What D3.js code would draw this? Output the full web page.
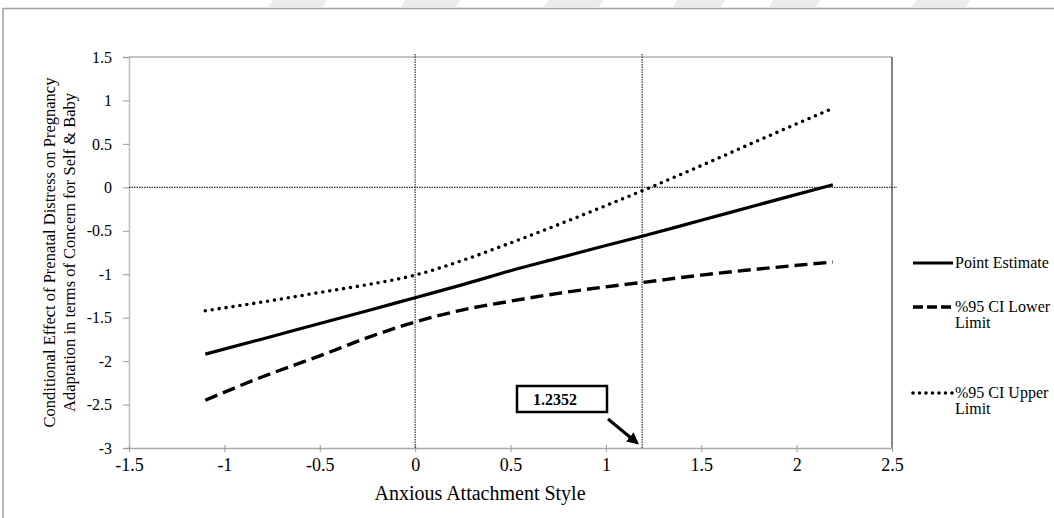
<!DOCTYPE html>
<html><head><meta charset="utf-8">
<script src="https://cdn.jsdelivr.net/npm/d3@7"></script>
<style>body{margin:0;background:#fff}svg{display:block}text{font-family:"Liberation Serif","Times New Roman",serif;fill:#000}</style>
</head><body><svg id="c" width="1054" height="518"></svg>
<script>
// ---- data ----
const xValues    = [-1.1, -0.8, -0.5, -0.25, 0, 0.25, 0.5, 0.75, 1.0, 1.19, 1.5, 1.8, 2.19];
const pointEst   = [-1.92, -1.745, -1.567, -1.42, -1.27, -1.12, -0.96, -0.815, -0.67, -0.563, -0.379, -0.20, 0.03];
const lowerCI    = [-2.45, -2.18, -1.94, -1.73, -1.55, -1.41, -1.31, -1.22, -1.145, -1.095, -1.01, -0.94, -0.86];
const upperCI    = [-1.42, -1.32, -1.21, -1.12, -1.01, -0.84, -0.64, -0.43, -0.21, -0.04, 0.25, 0.54, 0.91];
const xTicks = [-1.5, -1, -0.5, 0, 0.5, 1, 1.5, 2, 2.5];
const yTicks = [1.5, 1, 0.5, 0, -0.5, -1, -1.5, -2, -2.5, -3];
const refX = [0, 1.19];          // vertical reference lines
const refY = [0];                // horizontal reference line
const jnLabel = "1.2352";
const seriesNames = ["Point Estimate", "%95 CI Lower|Limit", "%95 CI Upper|Limit"];
const xTitle = "Anxious Attachment Style";
const yTitle = ["Conditional Effect of Prenatal Distress on Pregnancy", "Adaptation in terms of Concern for Self & Baby"];

const svg = d3.select("#c");
const L = 129, R = 892, T = 57, B = 448;
const x = d3.scaleLinear().domain([-1.5, 2.5]).range([L, R]);
const y = d3.scaleLinear().domain([-3, 1.5]).range([B, T]);

// watermark stripes at the top
const stripes = [[269,323],[401,456],[544,599],[673,721],[769,816],[912,966]];
svg.selectAll("polygon.wm").data(stripes).enter().append("polygon")
  .attr("points", d => `${d[0]+4},0 ${d[1]+4},0 ${d[1]},7 ${d[0]},7`)
  .attr("fill", "#ececec");

// outer frame
svg.append("path").attr("d", "M3,518 V8.5 H1054").attr("fill","none").attr("stroke","#a0a0a0").attr("stroke-width",1.5);

// plot border top/right
svg.append("line").attr("x1",L).attr("x2",R).attr("y1",T).attr("y2",T).attr("stroke","#8a8a8a").attr("stroke-width",1.2);
svg.append("line").attr("x1",R).attr("x2",R).attr("y1",T).attr("y2",B).attr("stroke","#333").attr("stroke-width",1.2);

// axes
const yAxis = svg.append("g").attr("transform",`translate(${L},0)`)
  .call(d3.axisLeft(y).tickValues(yTicks).tickSize(6).tickPadding(11).tickFormat(d => String(d)));
yAxis.select(".domain").attr("stroke","#bdbdbd").attr("stroke-width",1.5);
yAxis.selectAll(".tick line").attr("stroke","#9a9a9a");
yAxis.selectAll("text").attr("font-size",16).attr("font-family","Liberation Serif");

const xAxis = svg.append("g").attr("transform",`translate(0,${B})`)
  .call(d3.axisBottom(x).tickValues(xTicks).tickSizeInner(4).tickSizeOuter(0).tickPadding(6).tickFormat(d => String(d)));
xAxis.select(".domain").attr("stroke","#a8a8a8").attr("stroke-width",1.5);
xAxis.selectAll(".tick line").attr("stroke","#9a9a9a").attr("y1",-3);
xAxis.selectAll("text").attr("font-size",18).attr("font-family","Liberation Serif");

// reference lines
svg.selectAll("line.rx").data(refX).enter().append("line")
  .attr("x1",d=>x(d)).attr("x2",d=>x(d)).attr("y1",T-3).attr("y2",B)
  .attr("stroke","#333").attr("stroke-width",1.2).attr("stroke-dasharray","1.5,1");
svg.selectAll("line.ry").data(refY).enter().append("line")
  .attr("x1",L).attr("x2",R+5).attr("y1",d=>y(d)).attr("y2",d=>y(d))
  .attr("stroke","#333").attr("stroke-width",1.2).attr("stroke-dasharray","1.5,1");

// series
const line = d3.line().x(d=>x(d[0])).y(d=>y(d[1])).curve(d3.curveMonotoneX);
const styles = [
  {dash:null, cap:"butt", w:3.2},
  {dash:"13,6", cap:"butt", w:3.4},
  {dash:"0,7", cap:"round", w:3.6}
];
[pointEst, lowerCI, upperCI].forEach((vals,i) => {
  svg.append("path").datum(xValues.map((xv,j)=>[xv, vals[j]]))
    .attr("d", line).attr("fill","none").attr("stroke","#000")
    .attr("stroke-width", styles[i].w).attr("stroke-linecap", styles[i].cap)
    .attr("stroke-dasharray", styles[i].dash);
});

// legend
const legY = [263, 307, 393];
const legDash = [null, "10,4", "0,6.5"];
seriesNames.forEach((name,i) => {
  const g = svg.append("g");
  g.append("line").attr("x1",913).attr("x2",953).attr("y1",legY[i]).attr("y2",legY[i])
    .attr("stroke","#000").attr("stroke-width",styles[i].w).attr("stroke-linecap",styles[i].cap)
    .attr("stroke-dasharray",legDash[i]);
  name.split("|").forEach((t,k) => {
    g.append("text").attr("x",955).attr("y",legY[i]+5+k*16).attr("font-size",16).text(t);
  });
});

// annotation box + arrow
const bx = 517, by = 386, bw = 90, bh = 26;
svg.append("rect").attr("x",bx).attr("y",by).attr("width",bw).attr("height",bh)
  .attr("fill","#fff").attr("stroke","#000").attr("stroke-width",2.5);
svg.append("text").attr("x",bx+16).attr("y",by+19).attr("font-size",16).attr("font-weight","bold").text(jnLabel);
svg.append("defs").append("marker").attr("id","ah").attr("viewBox","0 0 10 10").attr("refX",8).attr("refY",5)
  .attr("markerWidth",4).attr("markerHeight",4).attr("orient","auto")
  .append("path").attr("d","M0,0 L10,5 L0,10 z").attr("fill","#000");
svg.append("line").attr("x1",608).attr("y1",419).attr("x2",x(refX[1])-5).attr("y2",y(-3)-5)
  .attr("stroke","#000").attr("stroke-width",3).attr("marker-end","url(#ah)");

// titles
svg.append("text").attr("x",480).attr("y",500).attr("text-anchor","middle").attr("font-size",20).text(xTitle);
yTitle.forEach((t,k) => {
  svg.append("text").attr("transform",`translate(${55+k*20},${(T+B)/2}) rotate(-90)`)
    .attr("text-anchor","middle").attr("font-size",16.5).text(t);
});
</script></body></html>
